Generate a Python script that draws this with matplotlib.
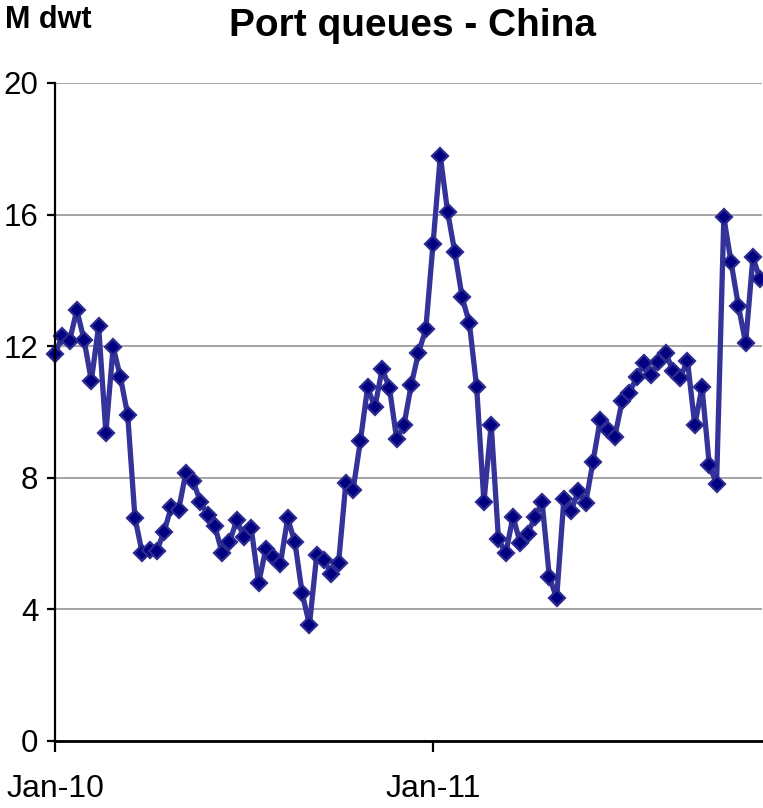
import numpy as np
import matplotlib
matplotlib.use("Agg")
import matplotlib.pyplot as plt

# Weekly port queue tonnage at Chinese ports (million dwt), from the first week of 2010
queues = [
    11.76, 12.31, 12.16, 13.10, 12.19, 10.95, 12.61, 9.36, 11.98, 11.06,
    9.91, 6.78, 5.71, 5.81, 5.78, 6.36, 7.12, 7.02, 8.16, 7.90,
    7.27, 6.87, 6.53, 5.70, 6.04, 6.72, 6.19, 6.46, 4.79, 5.84,
    5.58, 5.38, 6.77, 6.04, 4.49, 3.53, 5.65, 5.50, 5.08, 5.40,
    7.83, 7.63, 9.11, 10.75, 10.14, 11.31, 10.74, 9.17, 9.60, 10.82,
    11.80, 12.51, 15.11, 17.78, 16.09, 14.85, 13.49, 12.70, 10.75, 7.26,
    9.62, 6.13, 5.70, 6.82, 6.01, 6.29, 6.80, 7.27, 4.99, 4.34,
    7.36, 7.00, 7.61, 7.24, 8.49, 9.77, 9.45, 9.25, 10.32, 10.58,
    11.05, 11.48, 11.12, 11.53, 11.80, 11.25, 11.04, 11.56, 9.60, 10.75,
    8.39, 7.81, 15.92, 14.55, 13.23, 12.09, 14.70, 14.03,
]
tick_weeks = [0, 52]
tick_labels = ["Jan-10", "Jan-11"]
y_ticks = [0, 4, 8, 12, 16, 20]

plt.rcParams["font.family"] = ["Liberation Sans", "DejaVu Sans"]

fig = plt.figure(figsize=(7.63, 8.08), dpi=100)
ax = fig.add_axes([55 / 763, 67 / 808, 707 / 763, 658 / 808])

weeks = np.arange(len(queues))
ax.plot(weeks, queues, color="#333399", lw=3.8, marker="D", ms=7.8,
        mfc="#000080", mec="#2b2b90", mew=1.6, clip_on=False, zorder=3)

ax.set_xlim(0, 97.25)
ax.set_ylim(0, 20)
ax.set_yticks(y_ticks)
ax.set_xticks(tick_weeks)
ax.set_xticklabels(tick_labels)

ax.yaxis.grid(True, color="#8c8c8c", lw=1.1)
ax.set_axisbelow(True)
for side in ("top", "right"):
    ax.spines[side].set_visible(False)
ax.spines["left"].set_linewidth(1.6)
ax.spines["bottom"].set_linewidth(2.0)
ax.spines["left"].set_zorder(4)
ax.spines["bottom"].set_zorder(4)

ax.tick_params(axis="y", direction="out", length=6, width=1.6, labelsize=22.5, pad=6)
ax.tick_params(axis="x", direction="out", length=8, width=1.6, labelsize=23, pad=16)

fig.text(0.540, 0.968, "Port queues - China", ha="center", va="center",
         fontsize=28, fontweight="bold")
fig.text(5 / 763, 0.975, "M dwt", ha="left", va="center",
         fontsize=22, fontweight="bold")

fig.savefig("out.png", dpi=100)
